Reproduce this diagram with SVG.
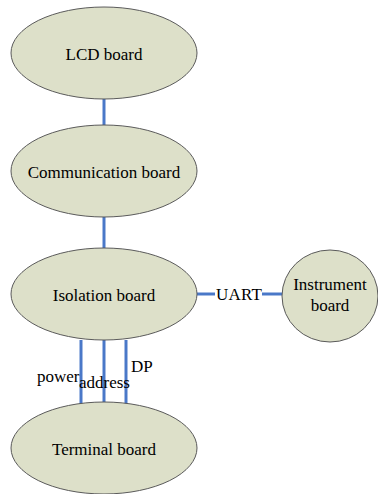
<svg xmlns="http://www.w3.org/2000/svg" width="378" height="494" viewBox="0 0 378 494">
<style>
.n{fill:#dde0c9;stroke:#5a5a5a;stroke-width:1}
.c{stroke:#4a78c8;stroke-width:3;fill:none}
.t{font-family:'Liberation Serif','Times New Roman',Times,serif;font-size:17px;fill:#000}
.m{text-anchor:middle}
</style>
<rect width="378" height="494" fill="#fff"/>
<g id="connectors">
<line class="c" x1="104" y1="99" x2="104" y2="126"/>
<line class="c" x1="104" y1="217" x2="104" y2="249"/>
<line class="c" x1="197" y1="294" x2="215" y2="294"/>
<line class="c" x1="262" y1="294" x2="282" y2="294"/>
<line class="c" x1="81" y1="340" x2="81" y2="404"/>
<line class="c" x1="104" y1="340" x2="104" y2="403"/>
<line class="c" x1="126" y1="340" x2="126" y2="404"/>
<text class="t" x="216" y="300" textLength="46">UART</text>
<text class="t" x="37" y="382">power</text>
<text class="t" x="79" y="388">address</text>
<text class="t" x="131" y="372">DP</text>
</g>
<g id="lcd"><ellipse class="n" cx="104" cy="53" rx="93" ry="46"/><text class="t m" x="104" y="60">LCD board</text></g>
<g id="comm"><ellipse class="n" cx="104" cy="171" rx="93" ry="46"/><text class="t m" x="104" y="178">Communication board</text></g>
<g id="iso"><ellipse class="n" cx="104" cy="294" rx="93" ry="46"/><text class="t m" x="104" y="301">Isolation board</text></g>
<g id="instr"><ellipse class="n" cx="330" cy="296" rx="48" ry="46"/><text class="t m" x="330" y="290">Instrument</text><text class="t m" x="330" y="311">board</text></g>
<g id="term"><ellipse class="n" cx="104" cy="448" rx="93" ry="46"/><text class="t m" x="104" y="455">Terminal board</text></g>
</svg>
